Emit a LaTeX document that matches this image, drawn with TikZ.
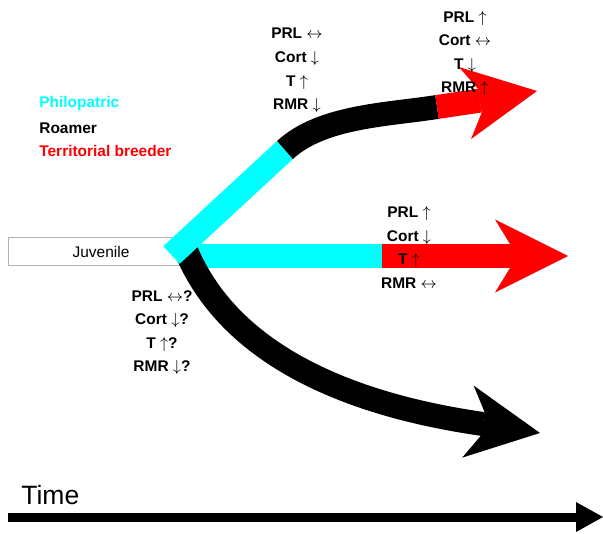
\documentclass[tikz,border=0pt]{standalone}
\usepackage{fontspec}
\setmainfont{Liberation Sans}
\usepackage{tikz}
\definecolor{aqua}{RGB}{0,255,255}
\definecolor{scarlet}{RGB}{255,0,0}
\def\blockhead[#1](#2)(#3){\fill[#1, shift={(#2)}, rotate=#3] (0, 0) -- (-73, 36.5) -- (-58, 12) -- (-58, -12) -- (-73, -36.5) -- cycle;}
\newcommand{\hUp}{$\uparrow$}
\newcommand{\hDown}{$\downarrow$}
\newcommand{\hSame}{$\leftrightarrow$}
\tikzset{
	band/.style={line width=0.48cm},
	hormones/.style={align=center, inner sep=0pt, font=\fontsize{8.8}{13.4}\selectfont\bfseries},
	legend/.style={anchor=west, inner sep=0pt, font=\fontsize{8.8}{10.5}\selectfont\bfseries}
}

\begin{document}
\begin{tikzpicture}[x=0.02cm, y=-0.02cm]
			%%%%% START %%%%%
			
			\useasboundingbox (0, 0) rectangle (603, 534);
			
			\draw[black!30] (8, 237) rectangle (186, 265);
			\node (juvenile) at (101, 252) {\fontsize{8.8}{10.5}\selectfont Juvenile};
			
			\draw[band, aqua] (185, 256) -- (383, 256);
			\draw[band, scarlet] (382, 256) -- (510, 256);
			\blockhead[scarlet](568, 256)(0)
			
			\draw[band] (183, 243) .. controls (225, 355) and (350, 405) .. (483, 424);
			\blockhead[black](540, 433)(-9)
			
			\draw[band, aqua] (171.5, 255) -- (285, 150);
			\draw[band] (285, 150) .. controls (321.7, 116) and (387.6, 114.8) .. (437, 107);
			\draw[band, scarlet] (437, 107) -- (480, 100.6);
			\blockhead[scarlet](537, 91)(9.5)
			
			\node[legend, text=aqua] (philo) at (39, 104) {Philopatric};
			\node[legend] (roamer) at (39, 128) {Roamer};
			\node[legend, text=scarlet] (breeder) at (39, 151) {Territorial breeder};
			
			\node[hormones] (roamtop) at (297, 70.5) {PRL \hSame\\ Cort \hDown\\ T \hUp\\ RMR \hDown};
			\node[hormones] (breedtop) at (465, 53.5) {PRL \hUp\\ Cort \hSame\\ T \hDown\\ RMR \hUp};
			\node[hormones] (breedmid) at (409, 247.5) {PRL \hUp\\ Cort \hDown\\ T \hUp\hspace*{11pt}\\ RMR \hSame};
			\node[hormones] (roamlow) at (162, 332.5) {PRL \hSame?\\ Cort \hDown?\\ T \hUp?\\ RMR \hDown?};
			
			\fill (8, 512.5) rectangle (577, 521.5);
			\fill (576, 502) -- (603, 517) -- (576, 532) -- cycle;
			\node[anchor=base west, inner sep=0pt, font=\fontsize{15.1}{18}\selectfont] (time) at (21, 504) {Time};
			
			%%%%% END %%%%%
		\end{tikzpicture}
\end{document}
